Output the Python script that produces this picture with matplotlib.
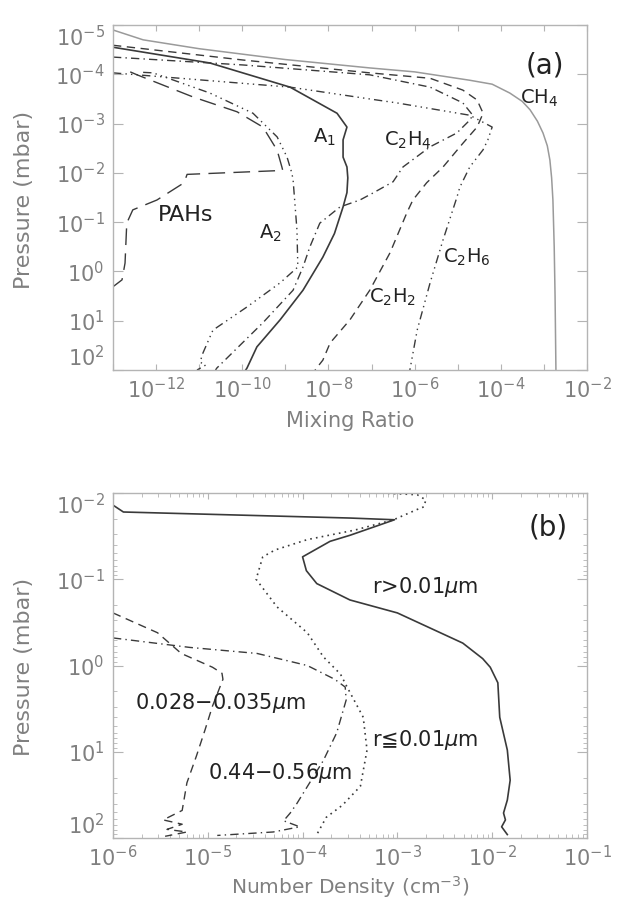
import numpy as np
import matplotlib
matplotlib.use('Agg')
from matplotlib import pyplot as plt
from matplotlib.ticker import LogLocator, NullLocator, NullFormatter

plt.rcParams['font.family'] = ['DejaVu Sans', 'Noto Sans CJK JP']
plt.rcParams['mathtext.fontset'] = 'dejavusans'

# ---- panel (a): mixing ratio profiles, values as log10(x), log10(p)
ch4_lx = [-13, -12.3, -11, -9, -7.04, -6, -4.72, -4.2, -3.79, -3.5, -3.32, -3.15, -3.02, -2.92, -2.86, -2.82, -2.79, -2.76, -2.74, -2.72]
ch4_lp = [-4.90, -4.70, -4.52, -4.30, -4.13, -4.05, -3.88, -3.8, -3.62, -3.45, -3.28, -3.05, -2.81, -2.55, -2.26, -1.9, -1.45, -0.5, 0.5, 2.0]

a1_lx = [-13, -10.75, -8.89, -7.8, -7.57, -7.66, -7.66, -7.57, -7.55, -7.57, -7.66, -7.86, -8.13, -8.59, -9.12, -9.66, -9.89, -9.92]
a1_lp = [-4.55, -4.23, -3.74, -3.21, -2.93, -2.67, -2.32, -2.12, -1.9, -1.6, -1.31, -0.77, -0.29, 0.38, 0.98, 1.53, 1.96, 2.0]

a2_lx = [-12.3, -12.07, -10.75, -9.75, -9.19, -8.96, -8.85, -8.82, -8.73, -8.71, -9.12, -9.89, -10.68, -10.91, -10.98, -10.85, -11.05]
a2_lp = [-4.04, -4.03, -3.62, -3.21, -2.73, -2.32, -2.0, -1.86, -0.84, -0.09, 0.23, 0.72, 1.19, 1.65, 1.84, 1.9, 2.0]

c2h4_lx = [-13, -9.98, -7.04, -5.64, -4.88, -4.65, -4.72, -5.02, -5.64, -6.27, -6.5, -6.97, -7.27, -7.73, -8.2, -8.43, -8.59, -8.82, -9.52, -10.59, -10.62]
c2h4_lp = [-4.35, -4.19, -3.99, -3.74, -3.42, -3.17, -3.07, -2.81, -2.53, -2.12, -1.82, -1.59, -1.45, -1.31, -0.98, -0.5, -0.09, 0.38, 1.04, 1.96, 2.0]

c2h2_lx = [-13, -9.98, -7.04, -5.64, -4.88, -4.55, -4.41, -4.55, -4.88, -5.34, -5.72, -6.04, -6.18, -6.57, -7.04, -7.5, -7.96, -8.13, -8.31]
c2h2_lp = [-4.59, -4.29, -4.03, -3.92, -3.68, -3.48, -3.21, -2.93, -2.6, -2.12, -1.8, -1.45, -1.19, -0.38, 0.38, 0.98, 1.45, 1.8, 2.0]

c2h6_lx = [-13, -8.89, -7.04, -6.41, -4.72, -4.2, -4.3, -4.41, -4.72, -4.95, -5.02, -5.34, -5.64, -5.94, -6.11]
c2h6_lp = [-4.03, -3.74, -3.5, -3.42, -3.17, -2.93, -2.67, -2.47, -2.12, -1.71, -1.5, -0.64, 0.23, 1.19, 2.0]

pah_lx = [-12.6, -12.44, -11.14, -10.12, -9.52, -9.19, -9.08, -9.06, -11.28, -11.35, -11.98, -12.54, -12.68, -12.72, -12.79, -13]
pah_lp = [-4.05, -3.99, -3.54, -3.24, -2.93, -2.46, -2.12, -2.05, -1.97, -1.8, -1.45, -1.25, -0.98, -0.17, 0.17, 0.31]

# ---- panel (b): number density profiles
big_lx = [-6, -5.89, -3.5, -3.03, -3.5, -3.71, -4.0, -3.96, -3.85, -3.5, -3.0, -2.31, -2.1, -2.02, -1.94, -1.92, -1.84, -1.81, -1.84, -1.88, -1.86, -1.9, -1.84]
big_lp = [-1.86, -1.78, -1.71, -1.69, -1.51, -1.44, -1.26, -1.1, -0.95, -0.76, -0.61, -0.26, -0.08, 0.02, 0.2, 0.6, 0.98, 1.33, 1.56, 1.71, 1.79, 1.87, 1.96]

small_lx = [-3.16, -2.79, -2.7, -2.72, -2.79, -3.04, -3.45, -3.95, -4.29, -4.42, -4.49, -4.27, -3.95, -3.78, -3.6, -3.53, -3.36, -3.32, -3.39, -3.58, -3.75, -3.85]
small_lp = [-2.0, -1.98, -1.92, -1.84, -1.81, -1.69, -1.57, -1.46, -1.34, -1.26, -1.0, -0.68, -0.38, -0.1, 0.1, 0.25, 0.6, 0.98, 1.4, 1.62, 1.76, 1.96]

bin1_lx = [-6, -5.53, -5.28, -4.95, -4.85, -4.84, -4.95, -5.03, -5.12, -5.22, -5.27, -5.47, -5.27, -5.43, -5.22, -5.45]
bin1_lp = [-0.61, -0.38, -0.14, 0.02, 0.09, 0.16, 0.47, 0.75, 1.05, 1.36, 1.68, 1.79, 1.84, 1.9, 1.93, 1.98]

bin2_lx = [-6, -5.19, -4.48, -3.95, -3.66, -3.55, -3.54, -3.64, -3.78, -4.06, -4.13, -4.2, -4.03, -4.31, -4.9]
bin2_lp = [-0.32, -0.21, -0.14, 0.0, 0.16, 0.25, 0.40, 0.78, 1.1, 1.6, 1.71, 1.8, 1.87, 1.93, 1.97]

grey = '#808080'
spine_grey = '#b4b4b4'
ink = '#3a3a3a'

dash = (0, (6, 4))
longdash = (0, (12, 6))
dashdot = (0, (6, 3, 1, 3))
dash3dot = (0, (6, 3, 1, 3, 1, 3, 1, 3))
dotted = (0, (1, 2.5))


def p10(v):
    return 10.0 ** np.array(v)


def style_axes(ax):
    for s in ax.spines.values():
        s.set_color(spine_grey)
        s.set_linewidth(1.0)
    ax.tick_params(which='both', direction='in', top=True, right=True,
                   color=spine_grey, labelcolor=grey, labelsize=15)
    ax.tick_params(axis='x', which='major', length=4, pad=5)
    ax.tick_params(axis='y', which='major', length=7, pad=6)
    ax.tick_params(which='minor', length=3)
    # end labels sit inside the box like the original
    ylabs = ax.get_yticklabels()
    ylabs[0].set_va('top')
    ylabs[-1].set_va('bottom')


fig = plt.figure(figsize=(6.17, 9.01), dpi=100)

# ================= panel (a)
ax1 = fig.add_axes([0.1831, 0.5893, 0.7682, 0.3829])
ax1.set_xscale('log')
ax1.set_yscale('log')

ax1.plot(p10(ch4_lx), p10(ch4_lp), color='#9a9a9a', lw=1.1, ls='-')
ax1.plot(p10(a1_lx), p10(a1_lp), color=ink, lw=1.2, ls='-')
ax1.plot(p10(a2_lx), p10(a2_lp), color=ink, lw=1.0, ls=dash3dot)
ax1.plot(p10(c2h4_lx), p10(c2h4_lp), color=ink, lw=1.0, ls=dashdot)
ax1.plot(p10(c2h2_lx), p10(c2h2_lp), color=ink, lw=1.0, ls=dash)
ax1.plot(p10(c2h6_lx), p10(c2h6_lp), color=ink, lw=1.0, ls=dash3dot)
ax1.plot(p10(pah_lx), p10(pah_lp), color=ink, lw=1.0, ls=longdash)

ax1.set_xlim(1e-13, 1e-2)
ax1.set_ylim(1e2, 1e-5)
xt = list(range(-13, -1))
ax1.set_xticks([10.0 ** e for e in xt])
ax1.set_xticklabels([r'$10^{%d}$' % e if e % 2 == 0 else '' for e in xt])
yt = list(range(-5, 3))
ax1.set_yticks([10.0 ** e for e in yt])
ax1.set_yticklabels([r'$10^{%d}$' % e for e in yt])
ax1.xaxis.set_minor_locator(NullLocator())
ax1.yaxis.set_minor_locator(NullLocator())
style_axes(ax1)

ax1.set_xlabel('Mixing Ratio', color=grey, fontsize=15)
ax1.set_ylabel('Pressure (mbar)', color=grey, fontsize=16)
ax1.xaxis.set_label_coords(0.5, -0.12)
ax1.yaxis.set_label_coords(-0.167, 0.493)

lab = dict(transform=ax1.transAxes, ha='center', va='center', color='#222222')
ax1.text(0.911, 0.884, '(a)', fontsize=20, **lab)
ax1.text(0.899, 0.788, r'CH$_4$', fontsize=14, **lab)
ax1.text(0.447, 0.675, r'A$_1$', fontsize=14, **lab)
ax1.text(0.622, 0.667, r'C$_2$H$_4$', fontsize=14, **lab)
ax1.text(0.154, 0.449, 'PAHs', fontsize=16, **lab)
ax1.text(0.333, 0.397, r'A$_2$', fontsize=14, **lab)
ax1.text(0.747, 0.328, r'C$_2$H$_6$', fontsize=14, **lab)
ax1.text(0.589, 0.212, r'C$_2$H$_2$', fontsize=14, **lab)

# ================= panel (b)
ax2 = fig.add_axes([0.1831, 0.0699, 0.7682, 0.3829])
ax2.set_xscale('log')
ax2.set_yscale('log')

ax2.plot(p10(big_lx), p10(big_lp), color=ink, lw=1.2, ls='-')
ax2.plot(p10(small_lx), p10(small_lp), color=ink, lw=1.2, ls=dotted)
ax2.plot(p10(bin1_lx), p10(bin1_lp), color=ink, lw=1.0, ls=dash)
ax2.plot(p10(bin2_lx), p10(bin2_lp), color=ink, lw=1.0, ls=dashdot)

ax2.set_xlim(1e-6, 1e-1)
ax2.set_ylim(1e2, 1e-2)
xt2 = list(range(-6, 0))
ax2.set_xticks([10.0 ** e for e in xt2])
ax2.set_xticklabels([r'$10^{%d}$' % e for e in xt2])
yt2 = list(range(-2, 3))
ax2.set_yticks([10.0 ** e for e in yt2])
ax2.set_yticklabels([r'$10^{%d}$' % e for e in yt2])
ax2.xaxis.set_minor_locator(LogLocator(base=10, subs=np.arange(2, 10), numticks=20))
ax2.yaxis.set_minor_locator(LogLocator(base=10, subs=np.arange(2, 10), numticks=20))
ax2.xaxis.set_minor_formatter(NullFormatter())
ax2.yaxis.set_minor_formatter(NullFormatter())
style_axes(ax2)

ax2.set_xlabel(r'Number Density (cm$^{-3}$)', color=grey, fontsize=14.5)
ax2.set_ylabel('Pressure (mbar)', color=grey, fontsize=16)
ax2.xaxis.set_label_coords(0.5, -0.106)
ax2.yaxis.set_label_coords(-0.167, 0.496)

lab2 = dict(transform=ax2.transAxes, ha='center', va='center', color='#222222', fontsize=15)
ax2.text(0.918, 0.901, '(b)', transform=ax2.transAxes, ha='center', va='center', color='#222222', fontsize=20)
ax2.text(0.658, 0.728, r'r>0.01$\mu$m', **lab2)
ax2.text(0.658, 0.284, r'r≦0.01$\mu$m', **lab2)
ax2.text(0.226, 0.391, r'0.028$-$0.035$\mu$m', **lab2)
ax2.text(0.352, 0.188, r'0.44$-$0.56$\mu$m', **lab2)

fig.savefig('out.png', dpi=100)
